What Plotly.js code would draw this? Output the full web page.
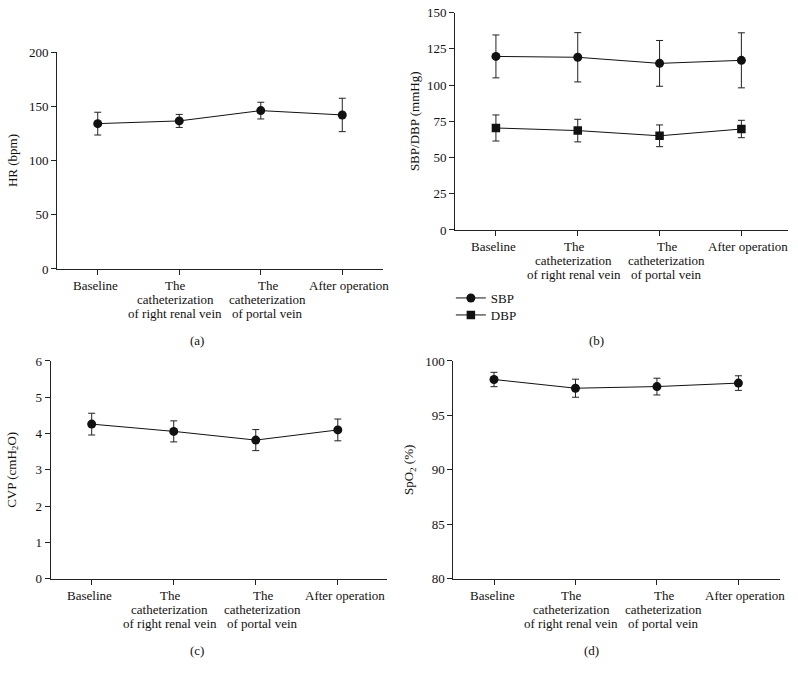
<!DOCTYPE html>
<html>
<head>
<meta charset="utf-8">
<script src="https://cdn.plot.ly/plotly-3.0.1.min.js"></script>
<style>html,body{margin:0;padding:0;background:#fff;}#chart{width:798px;height:674px;}</style>
</head>
<body>
<div id="chart"></div>
<script>
// ---- data ----
const categories = ["Baseline", "The<br>catheterization<br>of right renal vein", "The<br>catheterization<br>of portal vein", "After operation"];

const hrMean = [134, 136.5, 146, 142];
const hrErr  = [10.5, 6, 7.7, 15.4];

const sbpMean = [119.8, 119.2, 115.0, 117.1];
const sbpErr  = [14.8, 17.0, 15.8, 19.0];
const dbpMean = [70.4, 68.6, 65.0, 69.7];
const dbpErr  = [9.0, 7.8, 7.5, 6.0];

const cvpMean = [4.26, 4.06, 3.82, 4.10];
const cvpErr  = [0.30, 0.29, 0.29, 0.30];

const spo2Mean = [98.3, 97.5, 97.65, 97.97];
const spo2Err  = [0.66, 0.83, 0.77, 0.67];

const hrTicks = [0, 50, 100, 150, 200];
const bpTicks = [0, 25, 50, 75, 100, 125, 150];
const cvpTicks = [0, 1, 2, 3, 4, 5, 6];
const spo2Ticks = [80, 85, 90, 95, 100];

const panelLabels = ["(a)", "(b)", "(c)", "(d)"];

// ---- styling ----
const FONT = "Liberation Serif, Times New Roman, serif";
const INK = "#111";
const LABEL_SHIFT = [-2, -4, 7, 7];   // horizontal nudge of category label blocks (px)

function series(y, err, xa, ya, name, symbol, legend) {
  const t = {
    type: "scatter", mode: "lines+markers",
    x: categories, y: y, xaxis: xa, yaxis: ya, name: name,
    showlegend: !!legend,
    line: {color: INK, width: 1},
    marker: {color: INK, size: symbol === "square" ? 8.5 : 9, symbol: symbol},
    error_y: {type: "data", array: err, visible: true, color: "#222", thickness: 1, width: 3.5}
  };
  if (legend) t.legend = legend;
  return t;
}

const data = [
  series(hrMean, hrErr, "x", "y", "HR", "circle", null),
  series(sbpMean, sbpErr, "x2", "y2", "SBP", "circle", "legend"),
  series(dbpMean, dbpErr, "x2", "y2", "DBP", "square", "legend2"),
  series(cvpMean, cvpErr, "x3", "y3", "CVP", "circle", null),
  series(spo2Mean, spo2Err, "x4", "y4", "SpO2", "circle", null)
];

function xAxis(domain, anchor, r) {
  return {
    domain: domain, anchor: anchor, type: "category",
    range: r, showgrid: false, zeroline: false,
    showline: true, linecolor: "#222", linewidth: 1,
    ticks: "outside", ticklen: 5, tickcolor: "#222", tickwidth: 1,
    showticklabels: false
  };
}
function yAxis(domain, anchor, r, tv, title, standoff) {
  return {
    domain: domain, anchor: anchor, range: r,
    tickvals: tv, ticktext: tv.map(String),
    showgrid: false, zeroline: false,
    showline: true, linecolor: "#222", linewidth: 1,
    ticks: "outside", ticklen: 5, tickcolor: "#222", tickwidth: 1,
    tickfont: {family: FONT, size: 13, color: INK},
    title: {text: title, font: {family: FONT, size: 13, color: INK}, standoff: standoff}
  };
}

const panels = [
  {xa: "x",  ya: "y",  xd: [0.0714, 0.48],   yd: [0.6009, 0.9228], xr: [-0.5, 3.5]},
  {xa: "x2", ya: "y2", xd: [0.5702, 0.9875], yd: [0.6588, 0.9812], xr: [-0.5, 3.57]},
  {xa: "x3", ya: "y3", xd: [0.0635, 0.485],  yd: [0.1414, 0.4644], xr: [-0.5, 3.6]},
  {xa: "x4", ya: "y4", xd: [0.568, 0.9774],  yd: [0.1414, 0.4644], xr: [-0.5, 3.51]}
];

const annotations = [];
// category labels (multi-line, tight spacing) placed at the category positions
panels.forEach(p => {
  categories.forEach((cat, i) => {
    cat.split("<br>").forEach((line, j) => {
      annotations.push({
        text: line, xref: p.xa, yref: "paper", x: i, y: p.yd[0],
        xanchor: "center", yanchor: "middle",
        yshift: -(16.5 + 14 * j), xshift: LABEL_SHIFT[i],
        showarrow: false, font: {family: FONT, size: 13, color: INK}
      });
    });
  });
});
// panel captions
const capPos = [[197, 340], [596, 340], [197, 650], [591, 650]];
panelLabels.forEach((t, k) => {
  annotations.push({text: t, x: capPos[k][0] / 798, y: 1 - capPos[k][1] / 674,
    xref: "paper", yref: "paper", xanchor: "center", yanchor: "middle", showarrow: false,
    font: {family: FONT, size: 13, color: INK}});
});

const legendBase = {xanchor: "left", yanchor: "middle",
  font: {family: FONT, size: 13, color: INK},
  bgcolor: "rgba(0,0,0,0)", itemwidth: 30, borderwidth: 0};

const layout = {
  width: 798, height: 674,
  margin: {l: 0, r: 0, t: 0, b: 0},
  paper_bgcolor: "#fff", plot_bgcolor: "#fff",
  font: {family: FONT, size: 13, color: INK},
  showlegend: true,
  legend:  Object.assign({}, legendBase, {x: 0.565, y: 1 - 298 / 674}),
  legend2: Object.assign({}, legendBase, {x: 0.565, y: 1 - 315 / 674}),
  xaxis:  xAxis(panels[0].xd, "y",  panels[0].xr),
  yaxis:  yAxis(panels[0].yd, "x",  [0, 200], hrTicks, "HR (bpm)", 8),
  xaxis2: xAxis(panels[1].xd, "y2", panels[1].xr),
  yaxis2: yAxis(panels[1].yd, "x2", [0, 150], bpTicks, "SBP/DBP (mmHg)", 4),
  xaxis3: xAxis(panels[2].xd, "y3", panels[2].xr),
  yaxis3: yAxis(panels[2].yd, "x3", [0, 6], cvpTicks, "CVP (cmH<sub>2</sub>O)", 16),
  xaxis4: xAxis(panels[3].xd, "y4", panels[3].xr),
  yaxis4: yAxis(panels[3].yd, "x4", [80, 100], spo2Ticks, "SpO<sub>2</sub> (%)", 8),
  annotations: annotations
};

Plotly.newPlot("chart", data, layout, {displayModeBar: false, staticPlot: true});
</script>
</body>
</html>
